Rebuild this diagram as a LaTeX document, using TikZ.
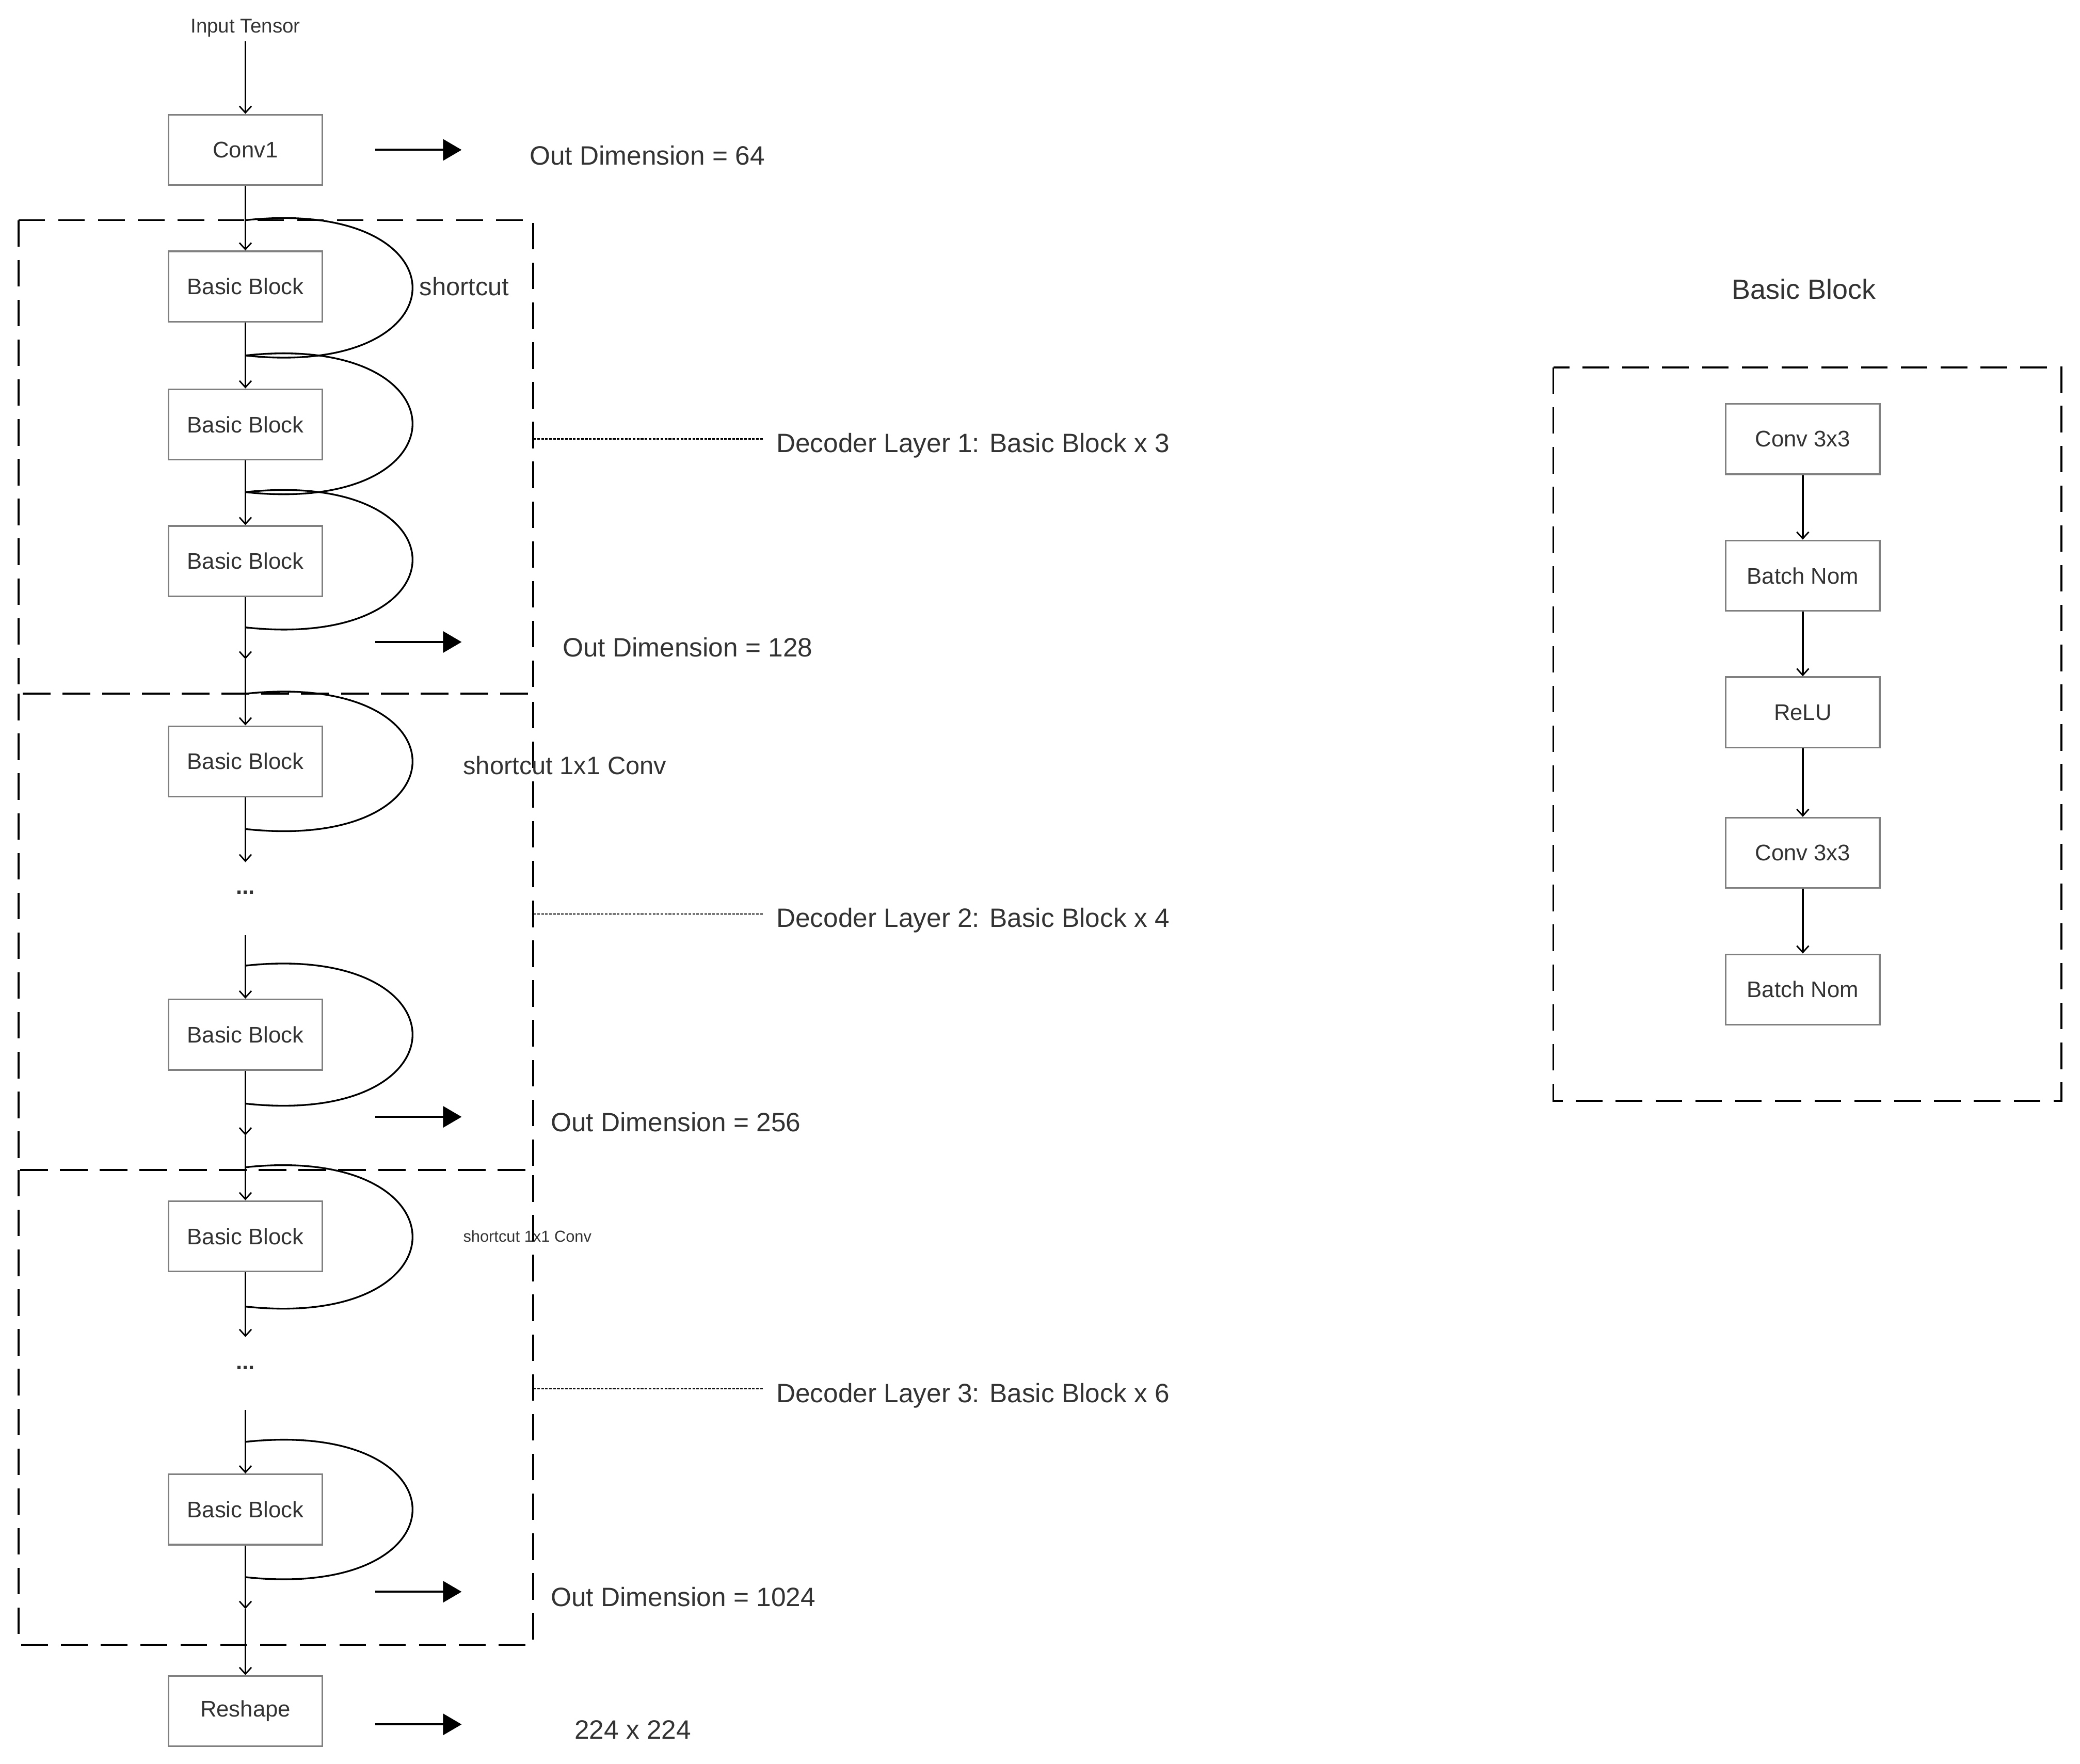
\documentclass[tikz,border=0pt]{standalone}
\usepackage{fontspec}
\setmainfont{Liberation Sans}
\usetikzlibrary{arrows.meta}
\definecolor{txt}{HTML}{333333}
\begin{document}
\begin{tikzpicture}[x=1pt,y=-1pt,
  blk/.style={draw=black!50,line width=1.3pt,minimum width=116pt,minimum height=53pt,inner sep=0pt,text=txt,font=\fontsize{17}{20}\selectfont},
  big/.style={text=txt,font=\fontsize{20}{24}\selectfont,anchor=west,inner sep=0pt},
  ar/.style={line width=1.3pt,-{Straight Barb[length=5pt,width=9pt,line width=1.1pt]}},
  fat/.style={line width=1.5pt,-{Triangle[length=14pt,width=16pt]}},
  dbox/.style={line width=1.4pt,dash pattern=on 20pt off 10pt},
  dots/.style={line width=1pt,dash pattern=on 2pt off 1pt},
  sc/.style={line width=1.3pt}]
\useasboundingbox (0,0) rectangle (1568,1329.5);
% dashed boxes
\draw[dbox] (14,166) rectangle (402,523);
\draw[dbox] (14,523) rectangle (402,882);
\draw[dbox] (14,882) rectangle (402,1240);
% left column
\node[text=txt,font=\fontsize{15}{18}\selectfont] (in) at (185,21) {Input Tensor};
\node[blk] (c1) at (185,113) {Conv1};
\node[blk] (b1) at (185,216) {Basic Block};
\node[blk] (b2) at (185,320) {Basic Block};
\node[blk] (b3) at (185,423) {Basic Block};
\node[blk] (b4) at (185,574) {Basic Block};
\node[blk] (b5) at (185,780) {Basic Block};
\node[blk] (b6) at (185,932) {Basic Block};
\node[blk] (b7) at (185,1138) {Basic Block};
\node[blk] (rs) at (185,1290) {Reshape};
\node[text=txt,font=\bfseries\fontsize{17}{20}\selectfont] (d1) at (185,673) {...};
\node[text=txt,font=\bfseries\fontsize{17}{20}\selectfont] (d2) at (185,1031) {...};
\coordinate (k1) at (185,166); \coordinate (k2) at (185,268);
\coordinate (k3) at (185,371); \coordinate (k4) at (185,473);
\coordinate (m1) at (185,497);
\coordinate (k5) at (185,523); \coordinate (k6) at (185,625); \coordinate (m2) at (185,650);
\coordinate (t5) at (185,705); \coordinate (k7) at (185,728); \coordinate (k8) at (185,832);
\coordinate (m3) at (185,856);
\coordinate (k9) at (185,880); \coordinate (k10) at (185,985); \coordinate (m4) at (185,1008);
\coordinate (t7) at (185,1063); \coordinate (k11) at (185,1087); \coordinate (k12) at (185,1189);
\coordinate (m5) at (185,1213);
\draw[ar] (in.south) -- (c1.north);
\draw[ar] (c1.south) -- (b1.north);
\draw[ar] (b1.south) -- (b2.north);
\draw[ar] (b2.south) -- (b3.north);
\draw[ar] (b3.south) -- (m1);
\draw[ar] (m1) -- (b4.north);
\draw[ar] (b4.south) -- (m2);
\draw[ar] (t5) -- (b5.north);
\draw[ar] (b5.south) -- (m3);
\draw[ar] (m3) -- (b6.north);
\draw[ar] (b6.south) -- (m4);
\draw[ar] (t7) -- (b7.north);
\draw[ar] (b7.south) -- (m5);
\draw[ar] (m5) -- (rs.north);
% shortcuts
\foreach \a/\b in {k1/k2,k2/k3,k3/k4,k5/k6,k7/k8,k9/k10,k11/k12}{
  \draw[sc] (\a) .. controls ([xshift=168pt,yshift=18pt]\a) and ([xshift=168pt,yshift=-18pt]\b) .. (\b);
}
\node[big,font=\fontsize{19}{22}\selectfont] (s1) at (316,216) {shortcut};
\node[big,font=\fontsize{19}{22}\selectfont] (s2) at (349,577) {shortcut 1x1 Conv};
\node[big,font=\fontsize{12}{14}\selectfont] (s3) at (349,932) {shortcut 1x1 Conv};
% right arrows
\foreach \n/\y/\x/\t in {o1/113/399/{Out Dimension = 64},o2/484/424/{Out Dimension = 128},o3/842/415/{Out Dimension = 256},o4/1200/415/{Out Dimension = 1024},o5/1300/433/{224 x 224}}{
  \coordinate (\n a) at (283,\y); \coordinate (\n b) at (348,\y);
  \draw[fat] (\n a) -- (\n b);
  \node[big] (\n) at (\x,\y+4) {\t};
}
% decoder labels
\foreach \n/\y/\t in {L1/331/{Decoder Layer 1: Basic Block x 3},L2/689/{Decoder Layer 2: Basic Block x 4},L3/1047/{Decoder Layer 3: Basic Block x 6}}{
  \coordinate (\n a) at (402,\y); \coordinate (\n b) at (575,\y);
  \draw[dots] (\n a) -- (\n b);
  \node[big] (\n) at (585,\y+5) {\t};
}
% basic block panel
\node[text=txt,font=\fontsize{21}{25}\selectfont] (bt) at (1360,218) {Basic Block};
\draw[dbox] (1171,277) rectangle (1554,830);
\node[blk] (r1) at (1359,331) {Conv 3x3};
\node[blk] (r2) at (1359,434) {Batch Nom};
\node[blk] (r3) at (1359,537) {ReLU};
\node[blk] (r4) at (1359,643) {Conv 3x3};
\node[blk] (r5) at (1359,746) {Batch Nom};
\draw[ar] (r1) -- (r2);
\draw[ar] (r2) -- (r3);
\draw[ar] (r3) -- (r4);
\draw[ar] (r4) -- (r5);
\end{tikzpicture}
\end{document}
